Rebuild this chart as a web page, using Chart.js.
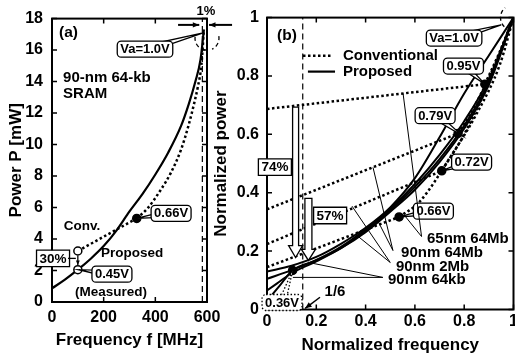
<!DOCTYPE html>
<html>
<head>
<meta charset="utf-8">
<title>Power vs frequency</title>
<script src="https://cdn.jsdelivr.net/npm/chart.js@4.4.1/dist/chart.umd.min.js"></script>
<style>
  html, body { margin: 0; padding: 0; background: #fff; overflow: hidden; }
  #wrap { position: relative; width: 515px; height: 358px; overflow: hidden; }
  canvas { position: absolute; top: 0; }
</style>
</head>
<body>
<div id="wrap">
  <canvas id="chartA" width="240" height="358" style="left:0px"></canvas>
  <canvas id="chartB" width="320" height="358" style="left:205px"></canvas>
</div>
<script>
// ---- panel (a): 90-nm 64-kb SRAM ----
const freqTicksA = [0, 200, 400, 600];
const powTicksA = [0, 2, 4, 6, 8, 10, 12, 14, 16, 18];
const propFreqA = [0, 50, 100, 150, 200, 250, 300, 350, 400, 450, 500, 530, 555, 575, 588];
const propPowA = [0.87, 1.42, 2.05, 2.75, 3.55, 4.55, 5.75, 6.85, 8.1, 9.5, 11.2, 12.6, 14.0, 15.4, 17.3];
const convLinFreqA = [100, 328];
const convLinPowA = [3.24, 5.31];
const convFreqA = [328, 370, 420, 460, 500, 530, 550, 565, 578, 588];
const convPowA = [5.31, 5.95, 7.1, 8.2, 9.7, 11.3, 12.6, 13.7, 15.0, 17.3];
const measFreqA = [100, 100];
const measPowA = [3.24, 2.05];
const vminFreqA = [328];
const vminPowA = [5.31];
const maxFreqA = 582;

// ---- panel (b): normalized ----
const freqTicksB = [0, 0.2, 0.4, 0.6, 0.8, 1];
const powTicksB = [0, 0.2, 0.4, 0.6, 0.8, 1];
// conventional: leakage at f=0, linear up to Vmin point
const leakB = [0.687, 0.343, 0.224, 0.145];
const vminFreqB = [0.884, 0.775, 0.709, 0.536, 0.104];
const vminPowB = [0.772, 0.603, 0.475, 0.317, 0.134];
// conventional above Vmin
const conv65F = [0.884, 0.94, 1];
const conv65P = [0.772, 0.875, 1];
const conv64MF = [0.775, 0.85, 0.925, 1];
const conv64MP = [0.603, 0.71, 0.84, 1];
const conv2MF = [0.709, 0.8, 0.9, 1];
const conv2MP = [0.475, 0.6, 0.78, 1];
const conv64kF = [0.536, 0.62, 0.742, 0.85, 0.945, 1];
const conv64kP = [0.317, 0.37, 0.52, 0.67, 0.84, 1];
// proposed
const propF = [0, 0.1, 0.2, 0.3, 0.4, 0.5, 0.6, 0.7, 0.8, 0.9, 1];
const prop65P = [0.13, 0.15, 0.18, 0.225, 0.28, 0.35, 0.45, 0.59, 0.74, 0.87, 1];
const prop64MP = [0.105, 0.135, 0.17, 0.215, 0.275, 0.345, 0.43, 0.53, 0.645, 0.79, 1];
const prop2MF = [0, 0.05, 0.1, 0.2, 0.3, 0.4, 0.5, 0.6, 0.7, 0.8, 0.9, 1];
const prop2MP = [0.065, 0.095, 0.125, 0.165, 0.21, 0.27, 0.34, 0.42, 0.515, 0.63, 0.78, 1];
const prop64kF = [0, 0.05, 0.104, 0.2, 0.3, 0.4, 0.5, 0.6, 0.7, 0.8, 0.9, 1];
const prop64kP = [0.03, 0.08, 0.134, 0.168, 0.21, 0.265, 0.335, 0.41, 0.505, 0.62, 0.77, 1];
const boundB = 0.145;

const FAM = '"Liberation Sans", Arial, Helvetica, sans-serif';
const fnt = s => 'bold ' + s + 'px ' + FAM;
const xy = (xs, ys) => xs.map((x, i) => ({ x: x, y: ys[i] }));
const DOT = [2.5, 2.5];

function curve(data, dash, w) {
  return { data: data, borderColor: '#000', borderWidth: w || 2, borderDash: dash || [],
    pointRadius: 0, fill: false, cubicInterpolationMode: 'monotone', borderCapStyle: 'butt' };
}
function straight(data, dash, w) {
  const d = curve(data, dash, w);
  d.cubicInterpolationMode = 'default';
  d.tension = 0;
  return d;
}
function dotted(data, bent) {
  return bent ? curve(data, DOT, 2.5) : straight(data, DOT, 2.5);
}
function marks(data, open) {
  return { data: data, showLine: false, pointRadius: 4, pointHoverRadius: 4, pointBorderWidth: 1.5,
    pointBorderColor: '#000', pointBackgroundColor: open ? '#fff' : '#000', clip: false };
}

function axis(min, max, ticks, title, pos, size, pad, tpad) {
  return {
    type: 'linear', position: pos, min: min, max: max,
    grid: { display: false, drawTicks: false },
    border: { display: false },
    afterBuildTicks: s => { s.ticks = ticks.map(v => ({ value: v })); },
    afterFit: s => { if (pos === 'left') s.width = size; else s.height = size; },
    ticks: { color: '#000', font: { family: FAM, size: 16, weight: 'bold' }, padding: pad,
      callback: v => String(v), maxRotation: 0, autoSkip: false },
    title: { display: true, text: title, color: '#000',
      font: { family: FAM, size: 17, weight: 'bold' }, padding: { top: tpad, bottom: tpad } }
  };
}

function frame(chart, xt, yt) {
  const c = chart.ctx, a = chart.chartArea, sx = chart.scales.x, sy = chart.scales.y;
  c.save();
  c.strokeStyle = '#000';
  c.lineWidth = 1.5;
  c.beginPath();
  xt.forEach(v => {
    const p = sx.getPixelForValue(v);
    c.moveTo(p, a.bottom); c.lineTo(p, a.bottom - 5);
    c.moveTo(p, a.top); c.lineTo(p, a.top + 5);
  });
  yt.forEach(v => {
    const p = sy.getPixelForValue(v);
    c.moveTo(a.left, p); c.lineTo(a.left + 5, p);
    c.moveTo(a.right, p); c.lineTo(a.right - 5, p);
  });
  c.stroke();
  c.lineWidth = 2;
  c.strokeRect(a.left, a.top, a.right - a.left, a.bottom - a.top);
  c.restore();
}

// small drawing helpers for the notes
function text(c, s, x, y, align, size) {
  c.font = fnt(size);
  c.fillStyle = '#000';
  c.textAlign = align;
  c.textBaseline = 'middle';
  c.fillText(s, x, y);
}
function line(c, pts, w, dash) {
  c.save();
  c.lineWidth = w || 1;
  c.setLineDash(dash || []);
  c.beginPath();
  pts.forEach((p, i) => i ? c.lineTo(p[0], p[1]) : c.moveTo(p[0], p[1]));
  c.stroke();
  c.restore();
}
function arrow(c, x0, y0, x1, y1, w, head) {
  line(c, [[x0, y0], [x1, y1]], w);
  const ang = Math.atan2(y1 - y0, x1 - x0), h = head || 7;
  c.beginPath();
  c.moveTo(x1, y1);
  c.lineTo(x1 - h * Math.cos(ang - 0.4), y1 - h * Math.sin(ang - 0.4));
  c.lineTo(x1 - h * Math.cos(ang + 0.4), y1 - h * Math.sin(ang + 0.4));
  c.closePath();
  c.fill();
}
function callout(c, s, cx, cy, tx, ty, size, opt) {
  opt = opt || {};
  c.save();
  c.font = fnt(size);
  const w = c.measureText(s).width + 6, h = size + 3;
  c.lineWidth = 1.3;
  c.strokeStyle = '#000';
  c.fillStyle = '#fff';
  if (opt.dotted) c.setLineDash([1.5, 2]);
  if (tx !== undefined) {
    const ang = Math.atan2(ty - cy, tx - cx), nx = -Math.sin(ang) * 3.5, ny = Math.cos(ang) * 3.5;
    c.beginPath();
    c.moveTo(cx + nx, cy + ny);
    c.lineTo(tx, ty);
    c.lineTo(cx - nx, cy - ny);
    c.closePath();
    c.fill();
    c.stroke();
  }
  c.beginPath();
  if (opt.square) c.rect(cx - w / 2, cy - h / 2, w, h);
  else c.roundRect(cx - w / 2, cy - h / 2, w, h, 4);
  c.fill();
  c.stroke();
  c.restore();
  text(c, s, cx, cy + 0.5, 'center', size);
}
function hollowArrow(c, x, yTop, yTip, shaftW, headW, headL) {
  c.save();
  c.lineWidth = 1.3;
  c.fillStyle = '#fff';
  c.beginPath();
  c.moveTo(x - shaftW / 2, yTop);
  c.lineTo(x + shaftW / 2, yTop);
  c.lineTo(x + shaftW / 2, yTip - headL);
  c.lineTo(x + headW / 2, yTip - headL);
  c.lineTo(x, yTip);
  c.lineTo(x - headW / 2, yTip - headL);
  c.lineTo(x - shaftW / 2, yTip - headL);
  c.closePath();
  c.fill();
  c.stroke();
  c.restore();
}
function arc(c, x, y, r, a0, a1) {
  c.save();
  c.lineWidth = 1.3;
  c.setLineDash([4, 3]);
  c.beginPath();
  c.arc(x, y, r, a0 * Math.PI / 180, a1 * Math.PI / 180);
  c.stroke();
  c.restore();
}

const notesA = {
  id: 'notesA',
  afterDatasetsDraw(chart) { frame(chart, freqTicksA, powTicksA); },
  afterDraw(chart) {
    const c = chart.ctx;
    const X = v => chart.scales.x.getPixelForValue(v), Y = v => chart.scales.y.getPixelForValue(v);
    c.save();
    c.fillStyle = '#000';
    c.strokeStyle = '#000';
    text(c, '(a)', X(27), Y(17.1), 'left', 15.5);
    text(c, '90-nm 64-kb', X(43), Y(14.26), 'left', 15);
    text(c, 'SRAM', X(43), Y(13.2), 'left', 15);
    text(c, 'Conv.', X(116), Y(4.8), 'center', 13.5);
    text(c, 'Proposed', X(310), Y(3.11), 'center', 13.5);
    text(c, '(Measured)', X(228), Y(0.62), 'center', 13.5);
    // 1% gap at Va=1.0V
    text(c, '1%', X(596), Y(18.45), 'center', 13);
    arrow(c, X(488), Y(17.6), X(570), Y(17.6), 2, 7);
    arrow(c, X(697), Y(17.6), X(608), Y(17.6), 2, 7);
    arc(c, X(600), Y(16.75), 12, 100, 200);
    arc(c, X(600), Y(16.75), 12, -10, 65);
    callout(c, 'Va=1.0V', X(360), Y(16.06), X(585), Y(17.1), 13);
    callout(c, '0.66V', X(461), Y(5.63), X(328), Y(5.31), 13);
    callout(c, '0.45V', X(232), Y(1.77), X(104), Y(2.05), 13);
    // 30% reduction at measured point
    arrow(c, X(100), Y(2.95), X(100), Y(2.35), 1.3, 5);
    callout(c, '30%', X(4), Y(2.77), undefined, undefined, 13.5, { square: true });
    line(c, [[X(4) + 15, Y(2.77)], [X(100) - 2, Y(2.77)]], 1.3);
    c.restore();
  }
};

const notesB = {
  id: 'notesB',
  afterDatasetsDraw(chart) { frame(chart, freqTicksB, powTicksB); },
  afterDraw(chart) {
    const c = chart.ctx;
    const X = v => chart.scales.x.getPixelForValue(v), Y = v => chart.scales.y.getPixelForValue(v);
    c.save();
    c.fillStyle = '#000';
    c.strokeStyle = '#000';
    text(c, '(b)', X(0.081), Y(0.937), 'center', 15.5);
    // legend
    line(c, [[X(0.146), Y(0.869)], [X(0.26), Y(0.869)]], 2.5, DOT);
    text(c, 'Conventional', X(0.308), Y(0.869), 'left', 15);
    line(c, [[X(0.166), Y(0.815)], [X(0.276), Y(0.815)]], 2.2);
    text(c, 'Proposed', X(0.308), Y(0.815), 'left', 15);
    // voltage callouts
    arc(c, X(1), Y(1), 13, 135, 230);
    callout(c, 'Va=1.0V', X(0.759), Y(0.93), X(0.95), Y(0.975), 13);
    callout(c, '0.95V', X(0.797), Y(0.834), X(0.884), Y(0.772), 13);
    callout(c, '0.79V', X(0.682), Y(0.664), X(0.79), Y(0.597), 13);
    callout(c, '0.72V', X(0.83), Y(0.505), X(0.709), Y(0.475), 13);
    callout(c, '0.66V', X(0.675), Y(0.337), X(0.536), Y(0.317), 13);
    callout(c, '0.36V', X(0.061), Y(0.024), X(0.104), Y(0.134), 13, { dotted: true });
    // reduction arrows
    hollowArrow(c, X(0.116), Y(0.693), Y(0.178), 6, 14, 12);
    hollowArrow(c, X(0.168), Y(0.381), Y(0.168), 7, 14, 11);
    callout(c, '74%', X(0.032), Y(0.488), undefined, undefined, 13.5, { square: true });
    callout(c, '57%', X(0.256), Y(0.322), undefined, undefined, 13.5, { square: true });
    text(c, '1/6', X(0.276), Y(0.059), 'center', 15);
    arrow(c, X(0.215), Y(0.042), X(0.155), Y(0.004), 1.5, 7);
    // memory labels and their leader lines
    const leaders = [
      [0.627, 0.25, 0.552, 0.74], [0.627, 0.25, 0.56, 0.32],
      [0.511, 0.202, 0.43, 0.487], [0.511, 0.202, 0.45, 0.303],
      [0.5, 0.161, 0.345, 0.354], [0.5, 0.161, 0.357, 0.259],
      [0.47, 0.11, 0.187, 0.158], [0.47, 0.11, 0.105, 0.11]
    ];
    leaders.forEach(l => line(c, [[X(l[0]), Y(l[1])], [X(l[2]), Y(l[3])]], 1));
    text(c, '65nm 64Mb', X(0.649), Y(0.242), 'left', 15);
    text(c, '90nm 64Mb', X(0.544), Y(0.195), 'left', 15);
    text(c, '90nm 2Mb', X(0.523), Y(0.147), 'left', 15);
    text(c, '90nm 64kb', X(0.491), Y(0.103), 'left', 15);
    c.restore();
  }
};

const common = {
  responsive: false,
  animation: false,
  devicePixelRatio: 1,
  events: [],
  plugins: { legend: { display: false }, tooltip: { enabled: false } }
};

new Chart(document.getElementById('chartA'), {
  type: 'line',
  data: {
    datasets: [
      marks(xy(vminFreqA, vminPowA), false),
      marks(xy(measFreqA, measPowA), true),
      curve(xy(propFreqA, propPowA), [], 2.2),
      dotted(xy(convLinFreqA, convLinPowA)),
      dotted(xy(convFreqA, convPowA), true),
      straight(xy([maxFreqA, maxFreqA], [0, 18]), [6, 4], 1.2)
    ]
  },
  options: Object.assign({}, common, {
    layout: { padding: { top: 13, right: 33, left: 0, bottom: 0 } },
    scales: {
      x: axis(0, 600, freqTicksA, 'Frequency f [MHz]', 'bottom', 56, 6.4, 7.8),
      y: axis(0, 18, powTicksA, 'Power P [mW]', 'left', 52, 9, 6)
    }
  }),
  plugins: [notesA]
});

new Chart(document.getElementById('chartB'), {
  type: 'line',
  data: {
    datasets: [
      marks(xy(vminFreqB, vminPowB), false),
      curve(xy(propF, prop65P)),
      curve(xy(propF, prop64MP)),
      curve(xy(prop2MF, prop2MP)),
      curve(xy(prop64kF, prop64kP)),
      dotted(xy([0, vminFreqB[0]], [leakB[0], vminPowB[0]])),
      dotted(xy([0, vminFreqB[1]], [leakB[1], vminPowB[1]])),
      dotted(xy([0, vminFreqB[2]], [leakB[2], vminPowB[2]])),
      dotted(xy([0, vminFreqB[3]], [leakB[3], vminPowB[3]])),
      dotted(xy(conv65F, conv65P), true),
      dotted(xy(conv64MF, conv64MP), true),
      dotted(xy(conv2MF, conv2MP), true),
      dotted(xy(conv64kF, conv64kP), true),
      straight(xy([boundB, boundB], [0, 1]), [6, 4], 1.2)
    ]
  },
  options: Object.assign({}, common, {
    layout: { padding: { top: 14.5, right: 11.5, left: 0, bottom: 0 } },
    scales: {
      x: axis(0, 1, freqTicksB, 'Normalized frequency', 'bottom', 48.5, 2.9, 2.8),
      y: axis(0, 1, powTicksB, 'Normalized power', 'left', 62, 8, 6)
    }
  }),
  plugins: [notesB]
});
</script>
</body>
</html>
